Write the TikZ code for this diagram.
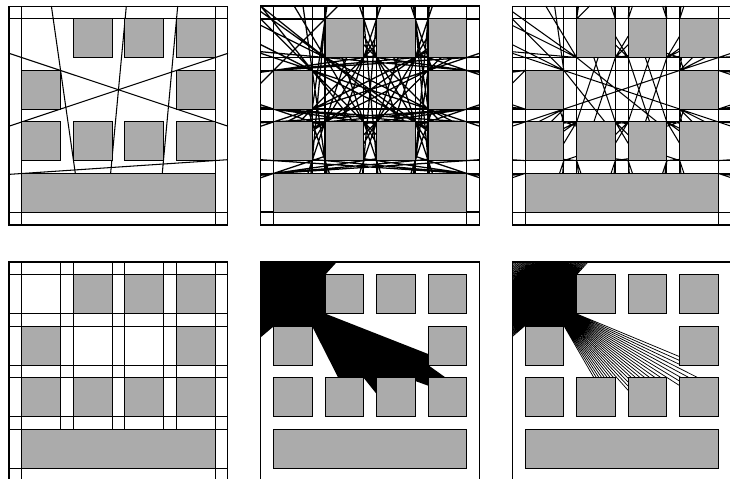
\documentclass[tikz,border=0pt]{standalone}
\usepackage{tikz}
\definecolor{blockgray}{RGB}{171,171,171}
\tikzset{
  every path/.style={line width=0.6pt},
  block/.style={draw=black, fill=blockgray},
  ray/.style={line width=0.42pt},
  heavy/.style={every path/.style={line width=0.72pt}}
}
\newcommand{\blocklist}{1/1/16/4, 1/5/4/8, 5/5/8/8, 9/5/12/8, 13/5/16/8, 1/9/4/12, 13/9/16/12, 5/13/8/16, 9/13/12/16, 13/13/16/16}
\newcommand{\vertexlist}{1/1, 16/1, 1/4, 16/4, 1/5, 4/5, 1/8, 4/8, 5/5, 8/5, 5/8, 8/8, 9/5, 12/5, 9/8, 12/8, 13/5, 16/5, 13/8, 16/8, 1/9, 4/9, 1/12, 4/12, 13/9, 16/9, 13/12, 16/12, 5/13, 8/13, 5/16, 8/16, 9/13, 12/13, 9/16, 12/16, 13/13, 16/13, 13/16, 16/16}
\newif\ifpairfree
% line through two corners, cut at the first block on either side
\newcommand{\cutpair}{%
  \edef\dx{\the\numexpr\bx-\ax\relax}%
  \edef\dy{\the\numexpr\by-\ay\relax}%
  \xdef\tlow{\fpeval{max(min((0-\ax)/(\dx),(17-\ax)/(\dx)),min((0-\ay)/(\dy),(17-\ay)/(\dy)))}}%
  \xdef\thigh{\fpeval{min(max((0-\ax)/(\dx),(17-\ax)/(\dx)),max((0-\ay)/(\dy),(17-\ay)/(\dy)))}}%
  \global\pairfreetrue
  \foreach \bl/\bb/\br/\bt in \blocklist {%
    \ifpairfree
      \edef\tenter{\fpeval{max(min((\bl-\ax)/(\dx),(\br-\ax)/(\dx)),min((\bb-\ay)/(\dy),(\bt-\ay)/(\dy)))}}%
      \edef\texit{\fpeval{min(max((\bl-\ax)/(\dx),(\br-\ax)/(\dx)),max((\bb-\ay)/(\dy),(\bt-\ay)/(\dy)))}}%
      \ifnum\fpeval{\tenter<\texit-0.000001}=1
        \ifnum\fpeval{max(\tenter,0)<min(\texit,1)-0.000001}=1
          \global\pairfreefalse
        \else
          \ifnum\fpeval{\texit<0.5}=1
            \xdef\tlow{\fpeval{max(\tlow,\texit)}}%
          \else
            \xdef\thigh{\fpeval{min(\thigh,\tenter)}}%
          \fi
        \fi
      \fi
    \fi
  }%
  % a pair only counts when the line runs on past both corners
  \ifnum\fpeval{\thigh<1.000001 || (\tlow>-0.000001 && \ax>0)}=1 \global\pairfreefalse \fi
  \ifpairfree
    \edef\lowpt{(\fpeval{round(\ax+\tlow*(\dx),3)},\fpeval{round(\ay+\tlow*(\dy),3)})}%
    \edef\highpt{(\fpeval{round(\ax+\thigh*(\dx),3)},\fpeval{round(\ay+\thigh*(\dy),3)})}%
    \xdef\fulllines{\fulllines \lowpt--\highpt}%
    \ifnum\fpeval{\tlow<-0.000001}=1
      \xdef\stublines{\stublines \lowpt--(\ax,\ay)}%
    \fi
    \xdef\stublines{\stublines (\bx,\by)--\highpt}%
  \fi
}
\gdef\fulllines{}
\gdef\stublines{}
\foreach \ax/\ay [count=\i] in \vertexlist {%
  \foreach \bx/\by [count=\j] in \vertexlist {%
    \ifnum\j>\i
      \ifnum\ax=\bx\else\ifnum\ay=\by\else
        \cutpair
      \fi\fi
    \fi
  }%
}
\def\ax{0}\def\ay{17}
\foreach \bx/\by in {4/12, 5/13} {\cutpair}
% rays from the point in the top left room
\gdef\raylines{}
\foreach \k in {0,...,249} {%
  \edef\dx{\fpeval{cosd(0.5+1.44*\k)}}%
  \edef\dy{\fpeval{sind(0.5+1.44*\k)}}%
  \xdef\thit{\fpeval{min(max((0-3)/(\dx),(17-3)/(\dx)),max((0-13.8)/(\dy),(17-13.8)/(\dy)))}}%
  \foreach \bl/\bb/\br/\bt in \blocklist {%
    \edef\tenter{\fpeval{max(min((\bl-3)/(\dx),(\br-3)/(\dx)),min((\bb-13.8)/(\dy),(\bt-13.8)/(\dy)))}}%
    \edef\texit{\fpeval{min(max((\bl-3)/(\dx),(\br-3)/(\dx)),max((\bb-13.8)/(\dy),(\bt-13.8)/(\dy)))}}%
    \ifnum\fpeval{\tenter<\texit && \tenter>0}=1
      \xdef\thit{\fpeval{min(\thit,\tenter)}}%
    \fi
  }%
  \xdef\raylines{\raylines (3,13.8)--(\fpeval{round(3+\thit*(\dx),3)},\fpeval{round(13.8+\thit*(\dy),3)})}%
}
\newcommand{\panelblocks}{%
  \foreach \bl/\bb/\br/\bt in \blocklist
    \draw[block, line width=0.6pt] (\bl,\bb) rectangle (\br,\bt);
}
\newcommand{\panelframe}{\draw (0,0) rectangle (17,17);}
\newcommand{\outerlines}{%
  \foreach \v in {1,16} {
    \draw (\v,0) -- (\v,17);
    \draw (0,\v) -- (17,\v);
  }
}
\newcommand{\innerlines}{%
  \outerlines
  \foreach \v in {4,5,8,9,12,13} {
    \draw (\v,4) -- (\v,17);
    \draw (0,\v) -- (17,\v);
  }
}
\begin{document}
\begin{tikzpicture}[x=0.2576cm, y=0.2576cm]
  \useasboundingbox (0,0) rectangle (56.68,37.19);
  % top row
  \begin{scope}[xshift=0.18cm, yshift=5.08cm]
    \panelframe
    \outerlines
    \draw (3.29,17) -- (5.15,4);
    \draw (9.11,17) -- (7.89,4);
    \draw (13.1,17) -- (11.9,4);
    \draw (0,13.33) -- (17,7.67);
    \draw (0,7.67) -- (17,13.33);
    \draw (0,3.93) -- (17,5.07);
    \panelblocks
  \end{scope}
  \begin{scope}[xshift=5.214cm, yshift=5.08cm, heavy]
    \panelframe
    \innerlines
    \draw \fulllines;
    \panelblocks
  \end{scope}
  \begin{scope}[xshift=10.246cm, yshift=5.08cm]
    \panelframe
    \innerlines
    \draw \stublines;
    \panelblocks
  \end{scope}
  % bottom row
  \begin{scope}[xshift=0.18cm, yshift=-0.04cm]
    \panelframe
    \innerlines
    \panelblocks
  \end{scope}
  \begin{scope}[xshift=5.214cm, yshift=-0.04cm]
    \panelframe
    \fill (0,17) -- (5.91,17) -- (5,16) -- (5,13) -- (13,9.86) -- (13,9) -- (14.4,8) -- (13,8) -- (13,7.4)
      -- (12,7.76) -- (12,8) -- (9,8) -- (9,6.75) -- (8,8) -- (6.03,8) -- (4,12) -- (1,12) -- (0,11.15) -- cycle;
    \panelblocks
  \end{scope}
  \begin{scope}[xshift=10.246cm, yshift=-0.04cm]
    \panelframe
    \draw[ray] \raylines;
    \panelblocks
  \end{scope}
\end{tikzpicture}
\end{document}
